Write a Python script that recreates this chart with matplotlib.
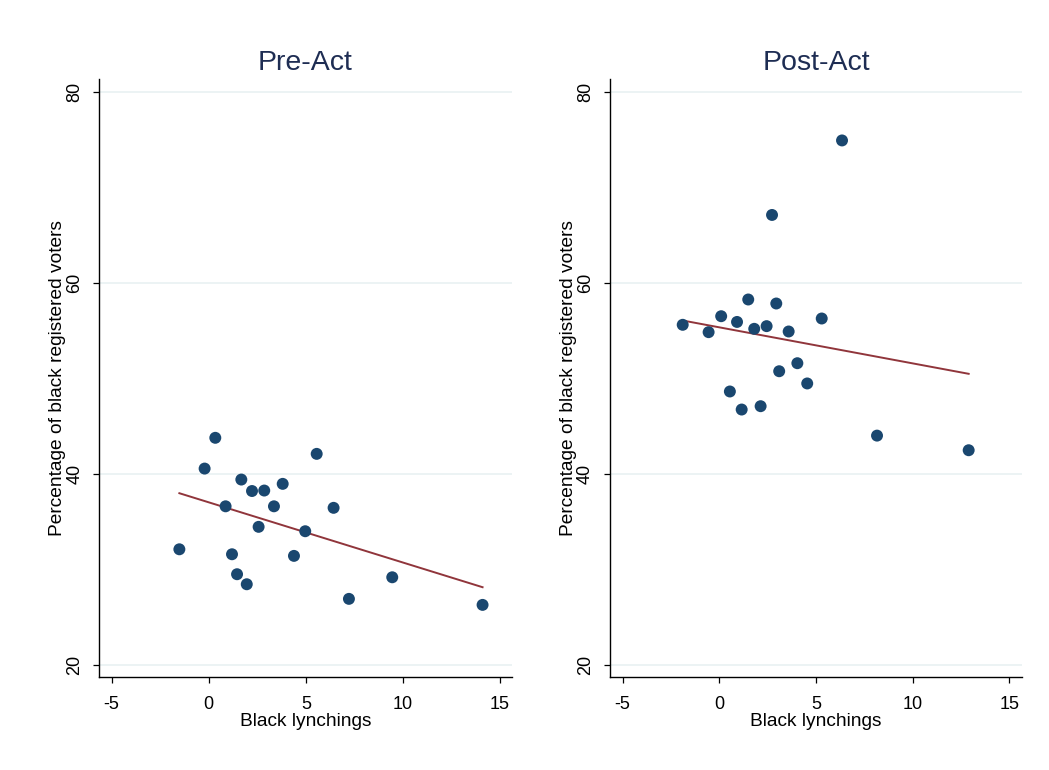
import numpy as np
import matplotlib
matplotlib.use('Agg')
import matplotlib.pyplot as plt

# Pre-Act: black lynchings vs. percentage of black registered voters
pre_lynchings = [-1.51, -0.21, 0.34, 0.87, 1.20, 1.46, 1.68, 1.96, 2.23, 2.57,
                 2.86, 3.36, 3.81, 4.39, 4.97, 5.56, 6.43, 7.22, 9.45, 14.10]
pre_voters = [32.1, 40.55, 43.77, 36.6, 31.58, 29.49, 39.4, 28.44, 38.2, 34.45,
              38.25, 36.6, 38.95, 31.41, 33.99, 42.09, 36.44, 26.91, 29.17, 26.28]
# fitted values at the ends of the fit line
pre_fit = [37.97, 28.13]

# Post-Act
post_lynchings = [6.35, 2.73, 1.50, 2.95, 0.10, 5.30, -1.89, 0.92, 2.45, 1.81,
                  -0.55, 3.59, 4.04, 3.10, 4.55, 0.55, 1.16, 2.14, 8.16, 12.90]
post_voters = [74.9, 67.1, 58.25, 57.83, 56.5, 56.26, 55.6, 55.9, 55.46, 55.18,
               54.83, 54.9, 51.58, 50.74, 49.46, 48.62, 46.73, 47.08, 44.0, 42.47]
post_fit = [56.05, 50.47]

panel_titles = ['Pre-Act', 'Post-Act']
x_ticks = [-5, 0, 5, 10, 15]
y_ticks = [20, 40, 60, 80]

plt.rcParams['font.family'] = ['Liberation Sans', 'DejaVu Sans']
plt.rcParams['axes.unicode_minus'] = False

dot_color = '#1a476f'
fit_color = '#90353b'
grid_color = '#eaf2f3'
title_color = '#1e2d53'

fig = plt.figure(figsize=(10.49, 7.70), dpi=100)
ax_left = fig.add_axes([0.0947, 0.1204, 0.3931, 0.7766])
ax_right = fig.add_axes([0.5815, 0.1204, 0.3928, 0.7766])

panels = [(ax_left, pre_lynchings, pre_voters, pre_fit, (-5.63, 15.6)),
          (ax_right, post_lynchings, post_voters, post_fit, (-5.65, 15.66))]

for (ax, xs, ys, fit, xlim), title in zip(panels, panel_titles):
    xs = np.array(xs)
    ys = np.array(ys)

    # fit line spans the range of the data
    fit_x = [xs.min(), xs.max()]
    ax.plot(fit_x, fit, color=fit_color, lw=1.4, zorder=2)
    ax.scatter(xs, ys, s=74, color=dot_color, edgecolors='none', zorder=3)

    ax.set_xlim(*xlim)
    ax.set_ylim(18.7, 81.3)
    ax.set_xticks(x_ticks)
    ax.set_yticks(y_ticks)
    ax.set_yticklabels([str(t) for t in y_ticks], rotation=90, va='center')
    ax.grid(axis='y', color=grid_color, lw=1.3, zorder=0)
    ax.set_axisbelow(True)

    for side in ['top', 'right']:
        ax.spines[side].set_visible(False)
    for side in ['left', 'bottom']:
        ax.spines[side].set_linewidth(1.0)
        ax.spines[side].set_color('black')
    ax.tick_params(direction='out', length=4.5, width=0.9, labelsize=13)
    ax.tick_params(axis='x', pad=9)
    ax.tick_params(axis='y', pad=7)

    ax.set_title(title, fontsize=20.5, color=title_color, pad=7)
    ax.set_xlabel('Black lynchings', fontsize=13.8, labelpad=0)
    ax.set_ylabel('Percentage of black registered voters', fontsize=13.8, labelpad=0)

fig.savefig('out.png', dpi=100, facecolor='white')
plt.close()
